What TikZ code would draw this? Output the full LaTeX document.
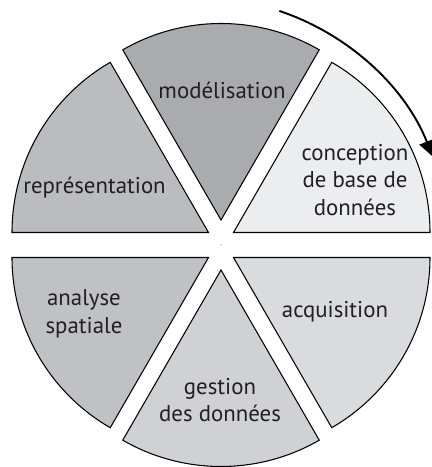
\documentclass[tikz,border=0pt]{standalone}
\usepackage{fontspec}
\setmainfont{PT Sans}
\usetikzlibrary{arrows.meta}
\definecolor{modelc}{RGB}{170,171,174}
\definecolor{reprc}{RGB}{187,188,192}
\definecolor{analc}{RGB}{192,193,197}
\definecolor{gestc}{RGB}{208,209,212}
\definecolor{acqc}{RGB}{218,219,222}
\definecolor{concc}{RGB}{236,237,239}
\definecolor{txtc}{RGB}{35,31,32}
\begin{document}
\begin{tikzpicture}[x=0.02cm,y=0.02cm,
  sector/.style={draw=black,line width=0.6pt,line join=miter},
  lbl/.style={text=txtc,font=\fontsize{13}{15.7}\selectfont,align=center,inner sep=0pt}]
\useasboundingbox (0,0) rectangle (432,467);
\def\R{196.5}
% sectors
\filldraw[sector,fill=modelc] (221,247) -- ++(60:\R) arc[start angle=60,end angle=120,radius=\R] -- cycle;
\filldraw[sector,fill=reprc] (208.5,234.5) -- ++(120:\R) arc[start angle=120,end angle=180,radius=\R] -- cycle;
\filldraw[sector,fill=concc] (233.5,234.5) -- ++(0:\R) arc[start angle=0,end angle=60,radius=\R] -- cycle;
\filldraw[sector,fill=analc] (208.5,209.5) -- ++(180:\R) arc[start angle=180,end angle=240,radius=\R] -- cycle;
\filldraw[sector,fill=gestc] (221,197) -- ++(240:\R) arc[start angle=240,end angle=300,radius=\R] -- cycle;
\filldraw[sector,fill=acqc] (233.5,209.5) -- ++(300:\R) arc[start angle=300,end angle=360,radius=\R] -- cycle;
\fill[black] (221,222) circle[radius=0.5];
% labels
\node[lbl] (model) at (222,377) {modélisation};
\node[lbl] (conc) at (355,287) {conception\\de base de\\données};
\node[lbl] (repr) at (94.5,279) {représentation};
\node[lbl] (anal) at (84,153) {analyse\\spatiale};
\node[lbl] (acq) at (335,155) {acquisition};
\node[lbl] (gest) at (220,67) {gestion\\des données};
% cycle arrow
\coordinate (arcstart) at ({200+250*cos(71.5)},{219+250*sin(71.5)});
\draw[line width=1.1pt,-{Triangle[length=9pt,width=9pt]}] (arcstart) arc[start angle=71.5,end angle=21.5,radius=250];
\end{tikzpicture}
\end{document}
